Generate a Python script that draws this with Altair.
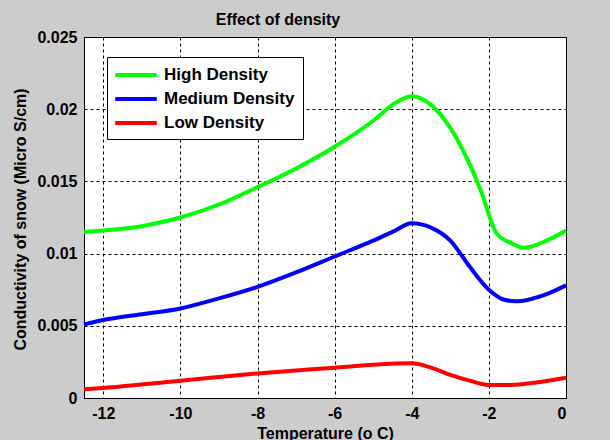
import altair as alt
import pandas as pd

series_names = ["High Density", "Medium Density", "Low Density"]
series_colors = ["#00ff00", "#0000ff", "#ff0000"]

high_x = [-12.5, -12, -11, -10, -9, -8, -7, -6, -5, -4.5, -4, -3.5, -3, -2.5, -2.2, -1.8, -1.4, -1.1, -0.5, 0]
high_y = [0.0115, 0.0116, 0.0119, 0.0125, 0.0134, 0.0146, 0.0159, 0.0174, 0.0192, 0.0203, 0.0209,
          0.0203, 0.0187, 0.0162, 0.0143, 0.0114, 0.0107, 0.0104, 0.0109, 0.0116]

med_x = [-12.5, -12, -11, -10, -9, -8, -7, -6, -5, -4.5, -4, -3.5, -3, -2.5, -2, -1.6, -1.3, -0.5, 0]
med_y = [0.0051, 0.0054, 0.0058, 0.0062, 0.0069, 0.0077, 0.0087, 0.0098, 0.0109, 0.0115, 0.0121,
         0.0118, 0.0109, 0.0091, 0.0075, 0.0068, 0.0067, 0.0072, 0.0078]

low_x = [-12.5, -12, -10, -8, -6, -5, -4, -3.5, -3, -2.5, -2, -1.5, -1, 0]
low_y = [0.0006, 0.0007, 0.0012, 0.0017, 0.0021, 0.0023, 0.0024, 0.0021, 0.0016, 0.0012,
         0.0009, 0.0009, 0.0010, 0.0014]

x_ticks = [-12, -10, -8, -6, -4, -2, 0]
y_ticks = [0, 0.005, 0.01, 0.015, 0.02, 0.025]

rows = []
for name, xs, ys in zip(series_names, [high_x, med_x, low_x], [high_y, med_y, low_y]):
    for i, (a, b) in enumerate(zip(xs, ys)):
        rows.append({"Series": name, "Temperature": a, "Conductivity": b, "order": i})
df = pd.DataFrame(rows)

FONT = "Liberation Sans"
FS = 16
FW = "bold"

chart = alt.Chart(df).mark_line(strokeWidth=4, interpolate="monotone").encode(
    x=alt.X("Temperature:Q",
            scale=alt.Scale(domain=[-12.5, 0], nice=False, zero=False),
            axis=alt.Axis(values=x_ticks, title="Temperature (o C)",
                          labelExpr="'' + datum.value")),
    y=alt.Y("Conductivity:Q",
            scale=alt.Scale(domain=[0, 0.025], nice=False),
            axis=alt.Axis(values=y_ticks, title="Conductivity of snow (Micro S/cm)",
                          format="~g", titleX=-64, titleY=182, titleAngle=-90,
                          titleAlign="center", titleBaseline="middle")),
    color=alt.Color("Series:N",
                    scale=alt.Scale(domain=series_names, range=series_colors),
                    sort=series_names,
                    legend=alt.Legend(title=None, orient="none", legendX=23, legendY=20,
                                      fillColor="white", strokeColor="black", padding=8,
                                      symbolType="M-2.6,0H2.6", symbolSize=256,
                                      symbolStrokeWidth=4, symbolOffset=11,
                                      labelFontSize=17, labelFont=FONT, labelFontWeight=FW,
                                      labelColor="black",
                                      labelOffset=18, rowPadding=6)),
    order="order:Q",
).properties(
    width=482, height=361,
    autosize="none",
    padding={"left": 84, "top": 37, "right": 44, "bottom": 42},
    background="#cccccc",
    title=alt.TitleParams("Effect of density", font=FONT, fontSize=FS, fontWeight=FW,
                          color="black", anchor="middle", dx=-47, offset=1),
).configure_view(
    fill="white", stroke="black", strokeWidth=1
).configure_axis(
    labelFont=FONT, labelFontSize=FS, labelFontWeight=FW, labelColor="black",
    titleFont=FONT, titleFontSize=FS, titleFontWeight=FW, titleColor="black",
    domainColor="black", ticks=False, labelPadding=7, titlePadding=4,
    grid=True, gridColor="black", gridDash=[3, 3], gridWidth=1, gridOpacity=1,
)

chart.save("out.html", embed_options={"renderer": "svg", "actions": False})
